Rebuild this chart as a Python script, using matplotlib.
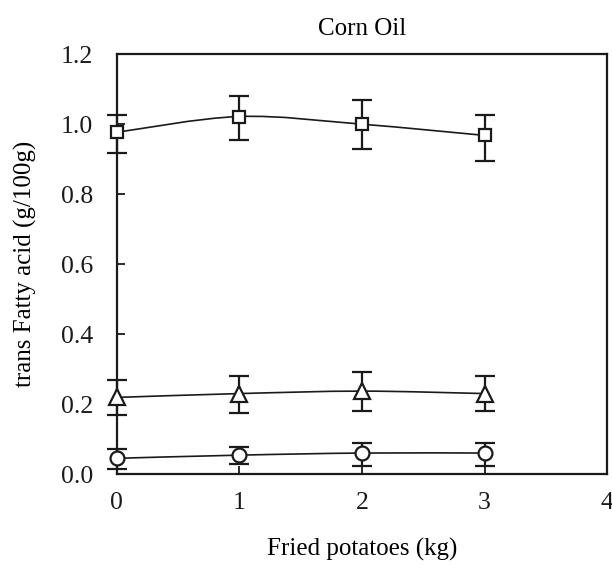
import numpy as np
import matplotlib
matplotlib.use("Agg")
import matplotlib.pyplot as plt
from matplotlib.path import Path
from matplotlib.patches import PathPatch

plt.rcParams['font.family'] = ['Liberation Serif', 'DejaVu Serif']

potatoes = [0, 1, 2, 3]

square_vals = [0.977, 1.022, 1.0, 0.968]
square_lo = [0.06, 0.068, 0.07, 0.073]
square_hi = [0.049, 0.058, 0.068, 0.058]

triangle_vals = [0.219, 0.23, 0.237, 0.23]
triangle_lo = [0.05, 0.055, 0.057, 0.05]
triangle_hi = [0.05, 0.051, 0.054, 0.051]

circle_vals = [0.045, 0.054, 0.06, 0.06]
circle_lo = [0.03, 0.025, 0.038, 0.038]
circle_hi = [0.026, 0.023, 0.029, 0.029]


def smooth_path(ax, xs, ys):
    # Excel-style smoothed line via Catmull-Rom -> cubic Bezier
    xs = np.asarray(xs, float)
    ys = np.asarray(ys, float)
    px = np.concatenate([[xs[0]], xs, [xs[-1]]])
    py = np.concatenate([[ys[0]], ys, [ys[-1]]])
    verts = [(xs[0], ys[0])]
    codes = [Path.MOVETO]
    for i in range(1, len(px) - 2):
        c1 = (px[i] + (px[i + 1] - px[i - 1]) / 6, py[i] + (py[i + 1] - py[i - 1]) / 6)
        c2 = (px[i + 1] - (px[i + 2] - px[i]) / 6, py[i + 1] - (py[i + 2] - py[i]) / 6)
        verts += [c1, c2, (px[i + 1], py[i + 1])]
        codes += [Path.CURVE4] * 3
    ax.add_patch(PathPatch(Path(verts, codes), fill=False, color='#1a1a1a', lw=1.2, zorder=2))


fig = plt.figure(figsize=(6.12, 5.65), dpi=100)
ax = fig.add_axes([0.191, 0.161, 0.801, 0.743])

for vals, lo, hi, mk, ms in [(square_vals, square_lo, square_hi, 's', 8),
                             (triangle_vals, triangle_lo, triangle_hi, '^', 11),
                             (circle_vals, circle_lo, circle_hi, 'o', 10)]:
    smooth_path(ax, potatoes, vals)
    ax.errorbar(potatoes, vals, yerr=[lo, hi], fmt='none', ecolor='#1a1a1a',
                elinewidth=1.6, capsize=7, capthick=1.6, zorder=3, clip_on=False)
    ax.plot(potatoes, vals, linestyle='none', marker=mk, ms=ms,
            mfc='white', mec='#1a1a1a', mew=1.6, zorder=4, clip_on=False)

ax.set_xlim(0, 4)
ax.set_ylim(0, 1.2)
ax.set_xticks([0, 1, 2, 3, 4])
ax.set_yticks(np.arange(0, 1.21, 0.2))
ax.set_yticklabels([f"{v:.1f}" for v in np.arange(0, 1.21, 0.2)])
for s in ['left', 'bottom', 'top', 'right']:
    ax.spines[s].set_linewidth(1.6)
    ax.spines[s].set_color('#1a1a1a')
ax.tick_params(direction='in', length=6, width=1.3, labelsize=18.5, colors='#1a1a1a')
ax.tick_params(axis='x', pad=13)
ax.tick_params(axis='y', pad=17)

ax.set_title('Corn Oil', fontsize=18, pad=14)
ax.set_xlabel('Fried potatoes (kg)', fontsize=18, labelpad=17)
ax.set_ylabel('trans Fatty acid (g/100g)', fontsize=18, labelpad=17)

fig.savefig('out.png', dpi=100)
